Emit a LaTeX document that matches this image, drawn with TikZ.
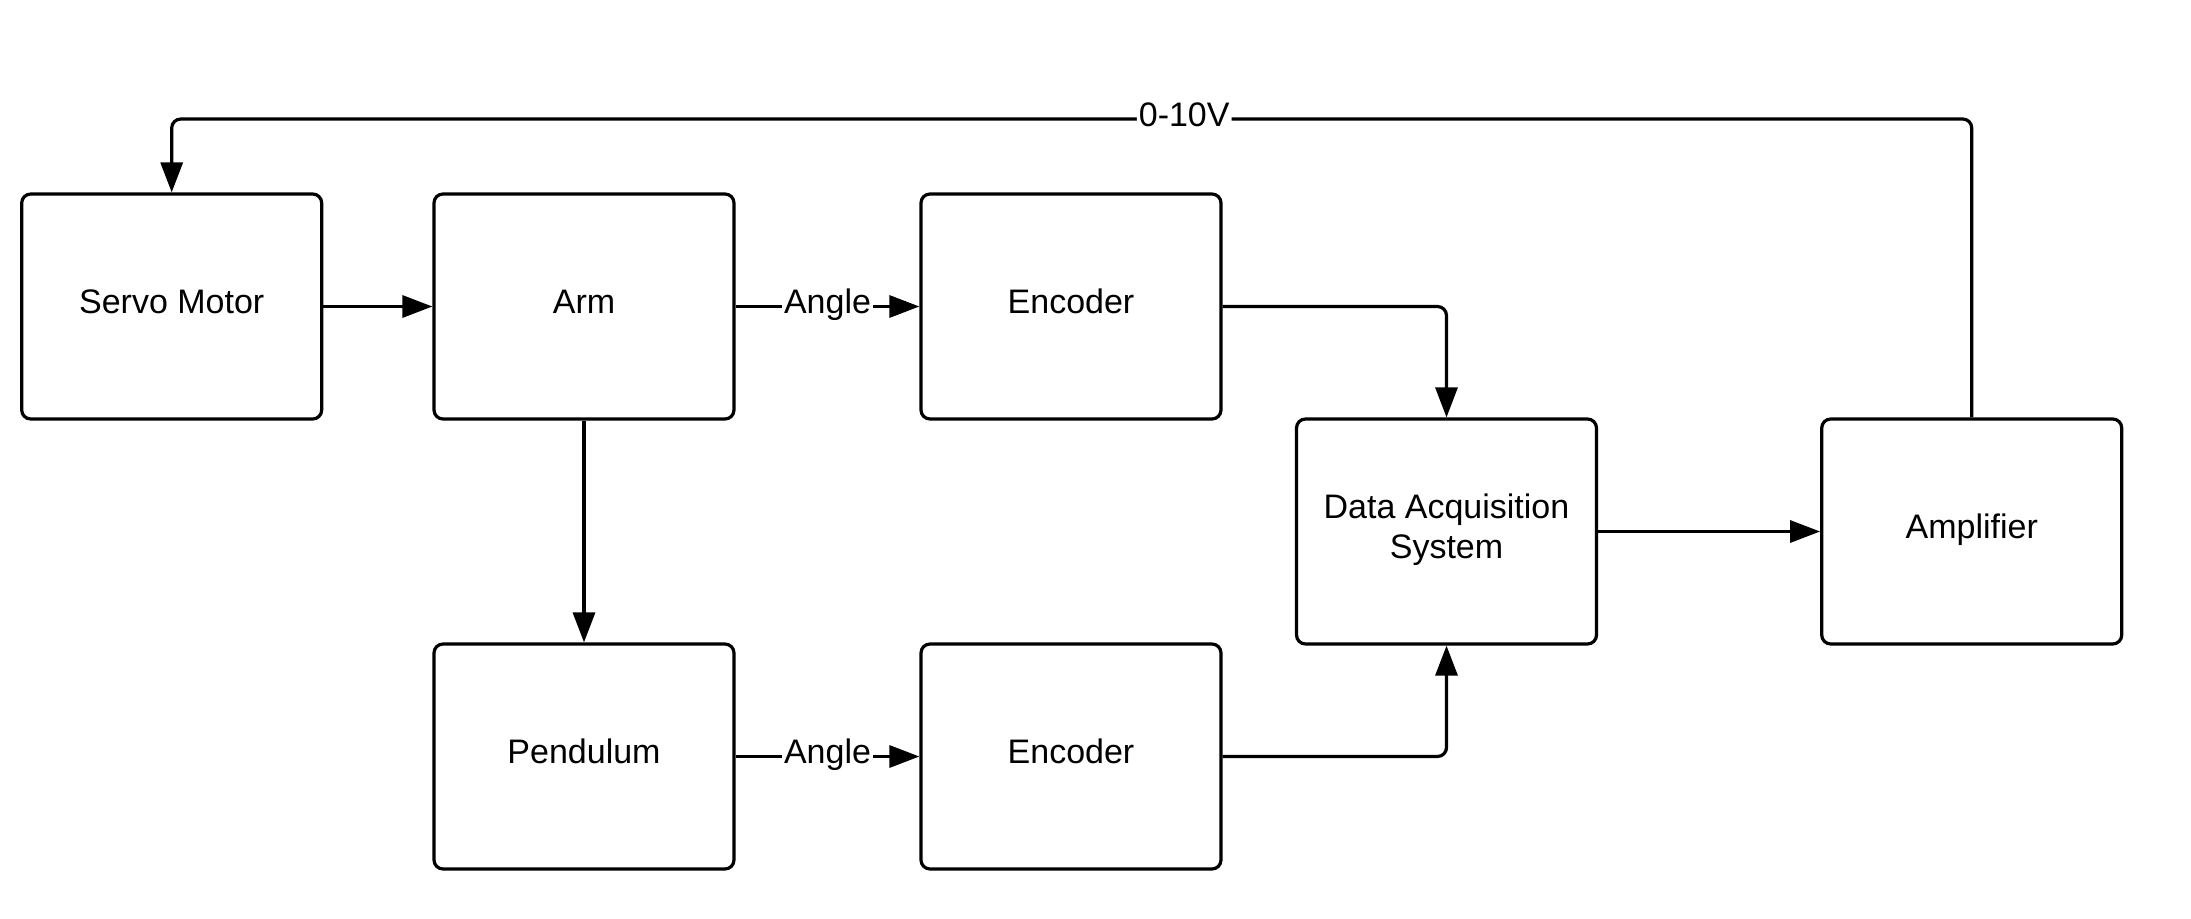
\documentclass[tikz,border=0pt]{standalone}
\usepackage{fontspec}
\setmainfont{Liberation Sans}
\usetikzlibrary{arrows.meta}
\begin{document}
\begin{tikzpicture}[x=1pt,y=-1pt,
  txt/.style={font=\fontsize{34}{40.5}\selectfont, text height=24.5pt, text depth=10.2pt},
  blk/.style={txt, draw=black, line width=3.2pt, rounded corners=9pt, minimum width=300pt, minimum height=225pt, align=center, inner sep=0pt},
  arr/.style={draw=black, line width=3.2pt, -{Triangle[length=30pt,width=22pt]}, rounded corners=9pt},
  lbl/.style={txt, fill=white, inner xsep=2pt, inner ysep=0pt}]
\useasboundingbox (0,0) rectangle (2191,918);
\node[blk] (servo) at (171.7,306.5) {Servo Motor};
\node[blk] (arm) at (584,306.5) {Arm};
\node[blk] (enc1) at (1071,306.5) {Encoder};
\node[blk, text height=65pt] (daq) at (1446.5,531.5) {Data Acquisition\\System};
\node[blk] (amp) at (1971.7,531.5) {Amplifier};
\node[blk] (pend) at (584,756.5) {Pendulum};
\node[blk] (enc2) at (1071,756.5) {Encoder};
\coordinate (ampTop) at (1971.7,119);
\coordinate (servoTop) at (171.7,119);
\draw[arr] (servo) -- (arm);
\draw[arr] (arm) -- node[lbl] {Angle} (enc1);
\draw[arr] (pend) -- node[lbl] {Angle} (enc2);
\draw[arr] (arm) -- (pend);
\draw[arr] (enc1.east) -| (daq.north);
\draw[arr] (enc2.east) -| (daq.south);
\draw[arr] (daq) -- (amp);
\draw[arr] (amp.north) -- (ampTop) -- node[lbl,pos=0.4375] {0-10V} (servoTop) -- (servo.north);
\end{tikzpicture}
\end{document}
